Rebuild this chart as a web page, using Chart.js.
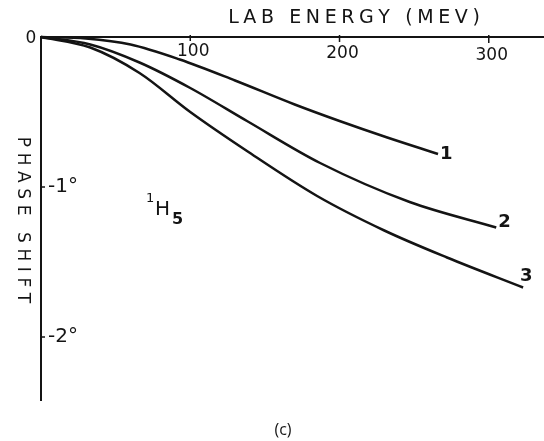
<!DOCTYPE html>
<html>
<head>
<meta charset="utf-8">
<script src="https://cdn.jsdelivr.net/npm/chart.js@4/dist/chart.umd.min.js"></script>
<style>
  html, body { margin: 0; padding: 0; background: #fff; }
  #wrap { width: 544px; height: 441px; position: relative; }
</style>
</head>
<body>
<div id="wrap"><canvas id="phaseChart"></canvas></div>
<script>
// lab energy (MeV) / phase shift (deg)
const energy1 = [0, 30, 60, 93, 130, 170, 200, 232, 266];
const phase1 = [0, -0.01, -0.05, -0.15, -0.29, -0.45, -0.56, -0.67, -0.78];
const energy2 = [0, 33, 66, 100, 138, 187, 247, 305];
const phase2 = [0, -0.05, -0.17, -0.34, -0.56, -0.84, -1.1, -1.27];
const energy3 = [0, 33, 66, 100, 138, 185, 230, 272, 323];
const phase3 = [0, -0.07, -0.24, -0.5, -0.76, -1.06, -1.29, -1.47, -1.67];
const curveLabels = ["1", "2", "3"];
const xTicks = [100, 200, 300];
const yTicks = [-1, -2];

const ink = "#141414";

function toPoints(xs, ys) {
  return xs.map((x, i) => ({ x: x, y: ys[i] }));
}

function spacedText(ctx, str, x, y, gap) {
  // draws str centred on x with extra gap between letters
  let total = 0;
  for (const ch of str) total += ctx.measureText(ch).width + gap;
  total -= gap;
  let cx = x - total / 2;
  ctx.textAlign = "left";
  for (const ch of str) {
    ctx.fillText(ch, cx, y);
    cx += ctx.measureText(ch).width + gap;
  }
}

const labelsPlugin = {
  id: "handLabels",
  afterDraw(chart) {
    const ctx = chart.ctx;
    const xs = chart.scales.x;
    const ys = chart.scales.y;
    const x0 = xs.getPixelForValue(0);
    const y0 = ys.getPixelForValue(0);
    ctx.save();
    ctx.fillStyle = ink;
    ctx.strokeStyle = ink;
    ctx.lineWidth = 1.5;
    ctx.textBaseline = "middle";

    // x tick marks + labels under the top axis
    ctx.font = "17px 'DejaVu Sans'";
    xTicks.forEach((v, i) => {
      const px = xs.getPixelForValue(v);
      ctx.beginPath();
      ctx.moveTo(px, y0 - 2);
      ctx.lineTo(px, y0 + 4 + i);
      ctx.stroke();
      ctx.textAlign = "center";
      ctx.fillText(String(v), px + 3, y0 + 15 + i * 2);
    });

    // y tick marks + labels
    ctx.font = "20px 'DejaVu Sans'";
    yTicks.forEach((v) => {
      const py = ys.getPixelForValue(v);
      ctx.beginPath();
      ctx.moveTo(x0, py);
      ctx.lineTo(x0 + 4, py);
      ctx.stroke();
      ctx.textAlign = "left";
      ctx.fillText("-" + Math.abs(v) + "°", x0 + 7, py);
    });

    // origin
    ctx.font = "17px 'DejaVu Sans'";
    ctx.textAlign = "center";
    ctx.fillText("0", x0 - 10, y0 + 2);

    // axis titles
    ctx.font = "19px 'DejaVu Sans'";
    spacedText(ctx, "LAB ENERGY (MEV)", 354, 18, 4.6);

    ctx.save();
    ctx.translate(22, 220);
    ctx.rotate(Math.PI / 2);
    ctx.font = "17px 'DejaVu Sans'";
    spacedText(ctx, "PHASE SHIFT", 0, 0, 5.6);
    ctx.restore();

    // 1H5 label
    ctx.textAlign = "left";
    ctx.font = "13px 'DejaVu Sans'";
    ctx.fillText("1", 146, 199);
    ctx.font = "20px 'DejaVu Sans'";
    ctx.fillText("H", 155, 210);
    ctx.font = "bold 16px 'DejaVu Sans'";
    ctx.fillText("5", 172, 220);

    // curve numbers at the end of each curve
    const ends = [
      [energy1, phase1, 6, 0],
      [energy2, phase2, 6, -5],
      [energy3, phase3, 1, -11],
    ];
    ctx.font = "bold 18px 'DejaVu Sans'";
    ends.forEach((e, i) => {
      const xv = e[0][e[0].length - 1];
      const yv = e[1][e[1].length - 1];
      ctx.textAlign = "left";
      ctx.fillText(curveLabels[i], xs.getPixelForValue(xv) + e[2] - 4, ys.getPixelForValue(yv) + e[3]);
    });

    // caption
    ctx.font = "16px 'Open Sans'";
    ctx.textAlign = "center";
    ctx.fillText("(c)", 283, 430);
    ctx.restore();
  },
};

const lineStyle = {
  showLine: true,
  borderColor: ink,
  borderWidth: 2.5,
  pointRadius: 0,
  cubicInterpolationMode: "monotone",
  fill: false,
};

const config = {
  type: "scatter",
  data: {
    datasets: [
      Object.assign({ label: curveLabels[0], data: toPoints(energy1, phase1) }, lineStyle),
      Object.assign({ label: curveLabels[1], data: toPoints(energy2, phase2) }, lineStyle),
      Object.assign({ label: curveLabels[2], data: toPoints(energy3, phase3) }, lineStyle),
    ],
  },
  options: {
    responsive: true,
    maintainAspectRatio: false,
    animation: false,
    clip: false,
    layout: {
      padding: { left: 41, top: 37, right: 0, bottom: 41 },
    },
    plugins: {
      legend: { display: false },
      tooltip: { enabled: false },
    },
    scales: {
      x: {
        type: "linear",
        position: "top",
        min: 0,
        max: 337,
        grid: { display: false, drawTicks: false },
        border: { display: true, color: ink, width: 2 },
        ticks: { display: false },
      },
      y: {
        type: "linear",
        position: "left",
        min: -2.42,
        max: 0,
        grid: { display: false, drawTicks: false },
        border: { display: true, color: ink, width: 2 },
        ticks: { display: false },
      },
    },
  },
  plugins: [labelsPlugin],
};

var phaseChart = new Chart(document.getElementById("phaseChart"), config);
</script>
</body>
</html>
